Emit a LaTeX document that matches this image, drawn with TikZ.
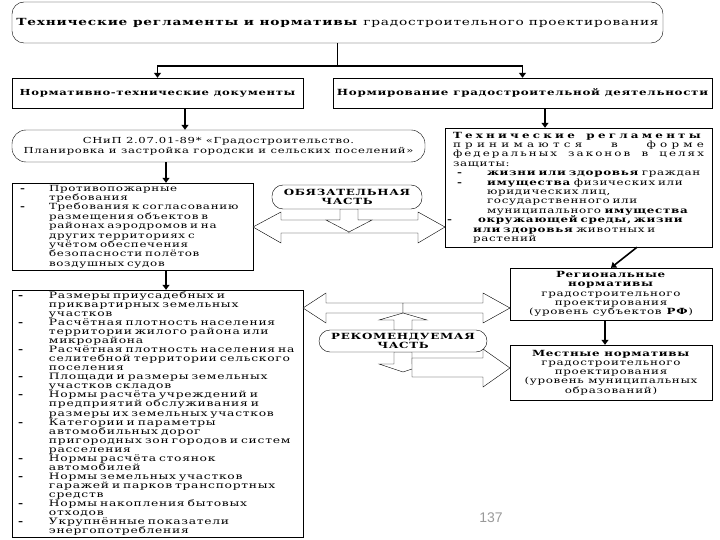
\documentclass[tikz,border=0pt]{standalone}
\usepackage{fontspec}
\setmainfont{DejaVu Serif}[FakeStretch=1.4, LetterSpace=8]
\newfontfamily\pagefont{Liberation Sans}
\usetikzlibrary{arrows.meta, positioning}

\tikzset{
    box/.style={draw, thin, inner sep=0pt},
    roundbox/.style={box, rounded corners=12pt},
    link/.style={line width=1.6pt, -{Triangle[length=5pt, width=7pt]}},
    blockarrow/.style={draw, thin, fill=white, line join=miter},
}
% a line stretched over the box, with letter spacing #1
\newcommand{\spread}[2]{\makebox[251pt][s]{\addfontfeature{LetterSpace=#1}#2}}

\begin{document}
\begin{tikzpicture}[x=1pt, y=-1pt, font=\fontsize{8.5}{9.4}\selectfont]
    \useasboundingbox (0,0) rectangle (720,540);

    % TOP: title and the two branches
    \node[roundbox, minimum width=651pt, minimum height=41pt, font=\fontsize{9.8}{12}\selectfont] (title) at (337.5,22.5)
        {\textbf{Технические регламенты и нормативы} градостроительного проектирования};
    \node[box, minimum width=291pt, minimum height=30pt, font=\bfseries\fontsize{8.3}{10}\selectfont] (docs) at (157.5,93)
        {Нормативно-технические документы};
    \node[box, minimum width=379pt, minimum height=30pt, font=\bfseries\fontsize{8.5}{10}\selectfont] (rules) at (522.5,93)
        {Нормирование градостроительной деятельности};
    \draw[line width=1.6pt] (title.south) -- ++(0,23) coordinate (split);
    \draw[link] (split) -| (docs.north);
    \draw[link] (split) -| (rules.north);

    % LEFT: SNiP and its parts
    \node[roundbox, rounded corners=14pt, minimum width=413pt, minimum height=32pt, align=center, font=\fontsize{8.3}{10}\selectfont] (snip) at (218.5,146)
        {СНиП 2.07.01-89* «Градостроительство.\\Планировка и застройка городски и сельских поселений»};
    \draw[link] ([xshift=27.5pt]docs.south) -- ([xshift=27.5pt]docs.south |- snip.north);

    \node[box, minimum width=241pt, minimum height=87pt, inner xsep=8pt, text width=225pt, align=left] (fire) at (132.5,226.5)
        {\makebox[29pt][l]{\textbf{-}}Противопожарные\\
         \hspace*{29pt}требования\\
         \makebox[29pt][l]{\textbf{-}}Требования к согласованию\\
         \hspace*{29pt}размещения объектов в\\
         \hspace*{29pt}районах аэродромов и на\\
         \hspace*{29pt}других территориях с\\
         \hspace*{29pt}учётом обеспечения\\
         \hspace*{29pt}безопасности полётов\\
         \hspace*{29pt}воздушных судов};
    \draw[link] ([xshift=-52.5pt]snip.south) -- ([xshift=-52.5pt]snip.south |- fire.north);

    \node[box, minimum width=291pt, minimum height=247pt, inner xsep=6pt, text width=279pt, align=left, font=\fontsize{8.8}{9.05}\selectfont] (plan) at (157.5,413.5)
        {\makebox[31pt][l]{\textbf{-}}Размеры приусадебных и\\
         \hspace*{31pt}приквартирных земельных\\
         \hspace*{31pt}участков\\
         \makebox[31pt][l]{\textbf{-}}Расчётная плотность населения\\
         \hspace*{31pt}территории жилого района или\\
         \hspace*{31pt}микрорайона\\
         \makebox[31pt][l]{\textbf{-}}Расчётная плотность населения на\\
         \hspace*{31pt}селитебной территории сельского\\
         \hspace*{31pt}поселения\\
         \makebox[31pt][l]{\textbf{-}}Площади и размеры земельных\\
         \hspace*{31pt}участков складов\\
         \makebox[31pt][l]{\textbf{-}}Нормы расчёта учреждений и\\
         \hspace*{31pt}предприятий обслуживания и\\
         \hspace*{31pt}размеры их земельных участков\\
         \makebox[31pt][l]{\textbf{-}}Категории и параметры\\
         \hspace*{31pt}автомобильных дорог\\
         \hspace*{31pt}пригородных зон городов и систем\\
         \hspace*{31pt}расселения\\
         \makebox[31pt][l]{\textbf{-}}Нормы расчёта стоянок\\
         \hspace*{31pt}автомобилей\\
         \makebox[31pt][l]{\textbf{-}}Нормы земельных участков\\
         \hspace*{31pt}гаражей и парков транспортных\\
         \hspace*{31pt}средств\\
         \makebox[31pt][l]{\textbf{-}}Нормы накопления бытовых\\
         \hspace*{31pt}отходов\\
         \makebox[31pt][l]{\textbf{-}}Укрупнённые показатели\\
         \hspace*{31pt}энергопотребления};
    \draw[link] ([xshift=33.5pt]fire.south) -- ([xshift=33.5pt]fire.south |- plan.north);

    % RIGHT: technical regulations and norms
    \node[box, minimum width=267pt, minimum height=119pt, inner xsep=8pt, text width=251pt, align=left] (regl) at (578.5,187.5)
        {\spread{38}{\textbf{Технические}\hfill\textbf{регламенты}}\\
         \spread{50}{принимаются\hfill в\hfill форме}\\
         \spread{24}{федеральных\hfill законов\hfill в\hfill целях}\\
         защиты:\\
         \makebox[34pt][l]{\hspace*{4pt}\textbf{-}}\textbf{жизни или здоровья} граждан\\
         \makebox[34pt][l]{\hspace*{4pt}\textbf{-}}\textbf{имущества} физических или\\
         \hspace*{34pt}юридических лиц,\\
         \hspace*{34pt}государственного или\\
         \hspace*{34pt}муниципального \textbf{имущества}\\
         \hspace*{-6pt}\makebox[31pt][l]{\textbf{-}}\textbf{окружающей среды, жизни}\\
         \hspace*{20pt}\textbf{или здоровья} животных и\\
         \hspace*{20pt}растений};
    \draw[link] ([xshift=22.5pt]rules.south) -- ([xshift=22.5pt]rules.south |- regl.north);

    \node[box, minimum width=202pt, minimum height=52pt, align=center, font=\fontsize{8.5}{9.2}\selectfont] (region) at (611,294)
        {\textbf{Региональные}\\\textbf{нормативы}\\градостроительного\\проектирования\\(уровень субъектов \textbf{РФ})};
    \draw[link] ([xshift=26pt]regl.south -| region.north) -- (region.north);

    \node[box, minimum width=202pt, minimum height=55pt, align=center, font=\fontsize{8.5}{9.2}\selectfont] (local) at (611,372.5)
        {\textbf{Местные нормативы}\\градостроительного\\проектирования\\(уровень муниципальных\\образований)};
    \draw[link] ([xshift=-6pt]region.south) -- ([xshift=-6pt]region.south |- local.north);

    % MIDDLE: mandatory part
    \draw[blockarrow] (349,220) -- (281,220) -- (281,212) -- (253,227) -- (281,243) -- (281,233) -- (349,233) -- cycle;
    \draw[blockarrow] (349,220) -- (418,220) -- (418,212) -- (445,227) -- (418,243) -- (418,233) -- (349,233) -- cycle;
    \draw[blockarrow] (340,209) -- (340,220) -- (326,220) -- (349,232) -- (372,220) -- (358,220) -- (358,209) -- cycle;
    \node[roundbox, rounded corners=11pt, minimum width=150pt, minimum height=24pt, fill=white, align=center, font=\bfseries\fontsize{8.5}{9.5}\selectfont] (must) at (347,197)
        {ОБЯЗАТЕЛЬНАЯ\\ЧАСТЬ};

    % MIDDLE: recommended part
    \draw[blockarrow] (403,303) -- (326,303) -- (326,293) -- (303,308) -- (326,323) -- (326,313) -- (403,313) -- cycle;
    \draw[blockarrow] (403,303) -- (483,303) -- (483,293) -- (510,308) -- (483,323) -- (483,313) -- (403,313) -- cycle;
    \draw[blockarrow] (394,330) -- (394,320) -- (379,320) -- (403,313) -- (427,320) -- (412,320) -- (412,330) -- cycle;
    \draw[blockarrow] (394,352) -- (394,364) -- (379,364) -- (403,372) -- (427,364) -- (412,364) -- (412,352) -- cycle;
    \draw[blockarrow] (412,358) -- (483,358) -- (483,349) -- (510,368) -- (483,387) -- (483,377) -- (412,377) -- cycle;
    \node[roundbox, rounded corners=11pt, minimum width=168pt, minimum height=22pt, fill=white, align=center, font=\bfseries\fontsize{8.5}{9.5}\selectfont] (advice) at (403,341)
        {РЕКОМЕНДУЕМАЯ\\ЧАСТЬ};

    % page number
    \node[font=\pagefont\fontsize{14}{14}\selectfont, text=black!40] (page) at (491,518) {137};
\end{tikzpicture}
\end{document}
